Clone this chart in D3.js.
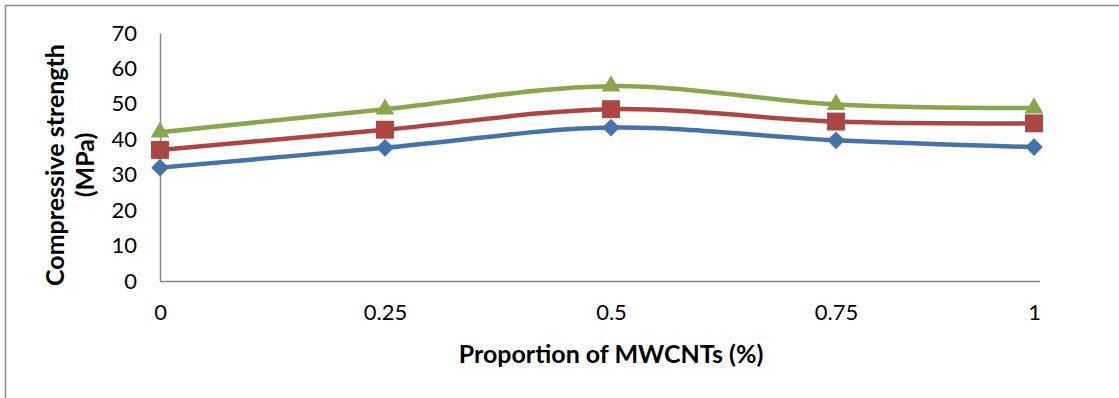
<!DOCTYPE html>
<html><head><meta charset="utf-8">
<script src="https://cdn.jsdelivr.net/npm/d3@7"></script>
<style>body{margin:0;background:#fff}svg{display:block}</style>
</head><body><svg id="c" width="1119" height="398"></svg>
<script>
const categories = [0, 0.25, 0.5, 0.75, 1];
const tickLabels = ["0", "0.25", "0.5", "0.75", "1"];
const seriesBlue = [32, 37.6, 43.3, 39.7, 37.8];
const seriesRed = [37, 42.7, 48.5, 45, 44.5];
const seriesGreen = [42, 48.5, 55, 49.8, 48.8];
const yTicks = [0, 10, 20, 30, 40, 50, 60, 70];

const svg = d3.select("#c");
const font = "Lato, 'Open Sans', sans-serif";

svg.append("rect").attr("x", 5.5).attr("y", 5.5).attr("width", 1300).attr("height", 600)
  .attr("fill", "none").attr("stroke", "#8a8a8a").attr("stroke-width", 1.5);

const x = d3.scaleLinear().domain([0, 0.25, 0.5, 0.75, 1]).range([160, 385, 611, 836, 1034]);
const y = d3.scaleLinear().domain([0, 70]).range([281, 33]);

const yAxis = d3.axisLeft(y).tickValues(yTicks).tickSize(0).tickPadding(23);
const gy = svg.append("g").attr("transform", "translate(160,0)").call(yAxis);
gy.select(".domain").attr("stroke", "#868686").attr("stroke-width", 1.5);
gy.selectAll("text").attr("font-family", font).attr("font-size", 22).attr("fill", "#000");

const xAxis = d3.axisBottom(x).tickValues(categories).tickFormat((d, i) => tickLabels[i]).tickSize(0).tickPadding(23);
const gx = svg.append("g").attr("transform", "translate(0,281)").call(xAxis);
gx.select(".domain").attr("d", "M160,0.5H1040").attr("stroke", "#868686").attr("stroke-width", 1.5);
gx.selectAll("text").attr("font-family", font).attr("font-size", 22).attr("fill", "#000");

svg.append("text").attr("x", 611).attr("y", 363).attr("text-anchor", "middle")
  .attr("font-family", font).attr("font-weight", "bold").attr("font-size", 25)
  .text("Proportion of MWCNTs (%)");

const yt = svg.append("text").attr("transform", "translate(64,165) rotate(-90)")
  .attr("text-anchor", "middle").attr("font-family", font).attr("font-weight", "bold").attr("font-size", 25);
yt.append("tspan").attr("x", 0).attr("dy", 0).text("Compressive strength");
yt.append("tspan").attr("x", 0).attr("dy", 30).text("(MPa)");

const line = d3.line().x((d, i) => x(categories[i])).y(d => y(d)).curve(d3.curveCardinal.tension(0));

const series = [
  {vals: seriesBlue, color: "#4572A7", sym: d3.symbolDiamond2, size: 200},
  {vals: seriesRed, color: "#AA4643", sym: d3.symbolSquare2, size: 410},
  {vals: seriesGreen, color: "#89A54E", sym: d3.symbolTriangle2, size: 250}
];

series.forEach(s => {
  svg.append("path").attr("d", line(s.vals)).attr("fill", "none")
    .attr("stroke", s.color).attr("stroke-width", 4.5).attr("stroke-linejoin", "round");
});
series.forEach(s => {
  svg.append("g").selectAll("path").data(s.vals).join("path")
    .attr("transform", (d, i) => `translate(${x(categories[i])},${y(d)})`)
    .attr("d", d3.symbol().type(s.sym).size(s.size))
    .attr("fill", s.color);
});
</script></body></html>
